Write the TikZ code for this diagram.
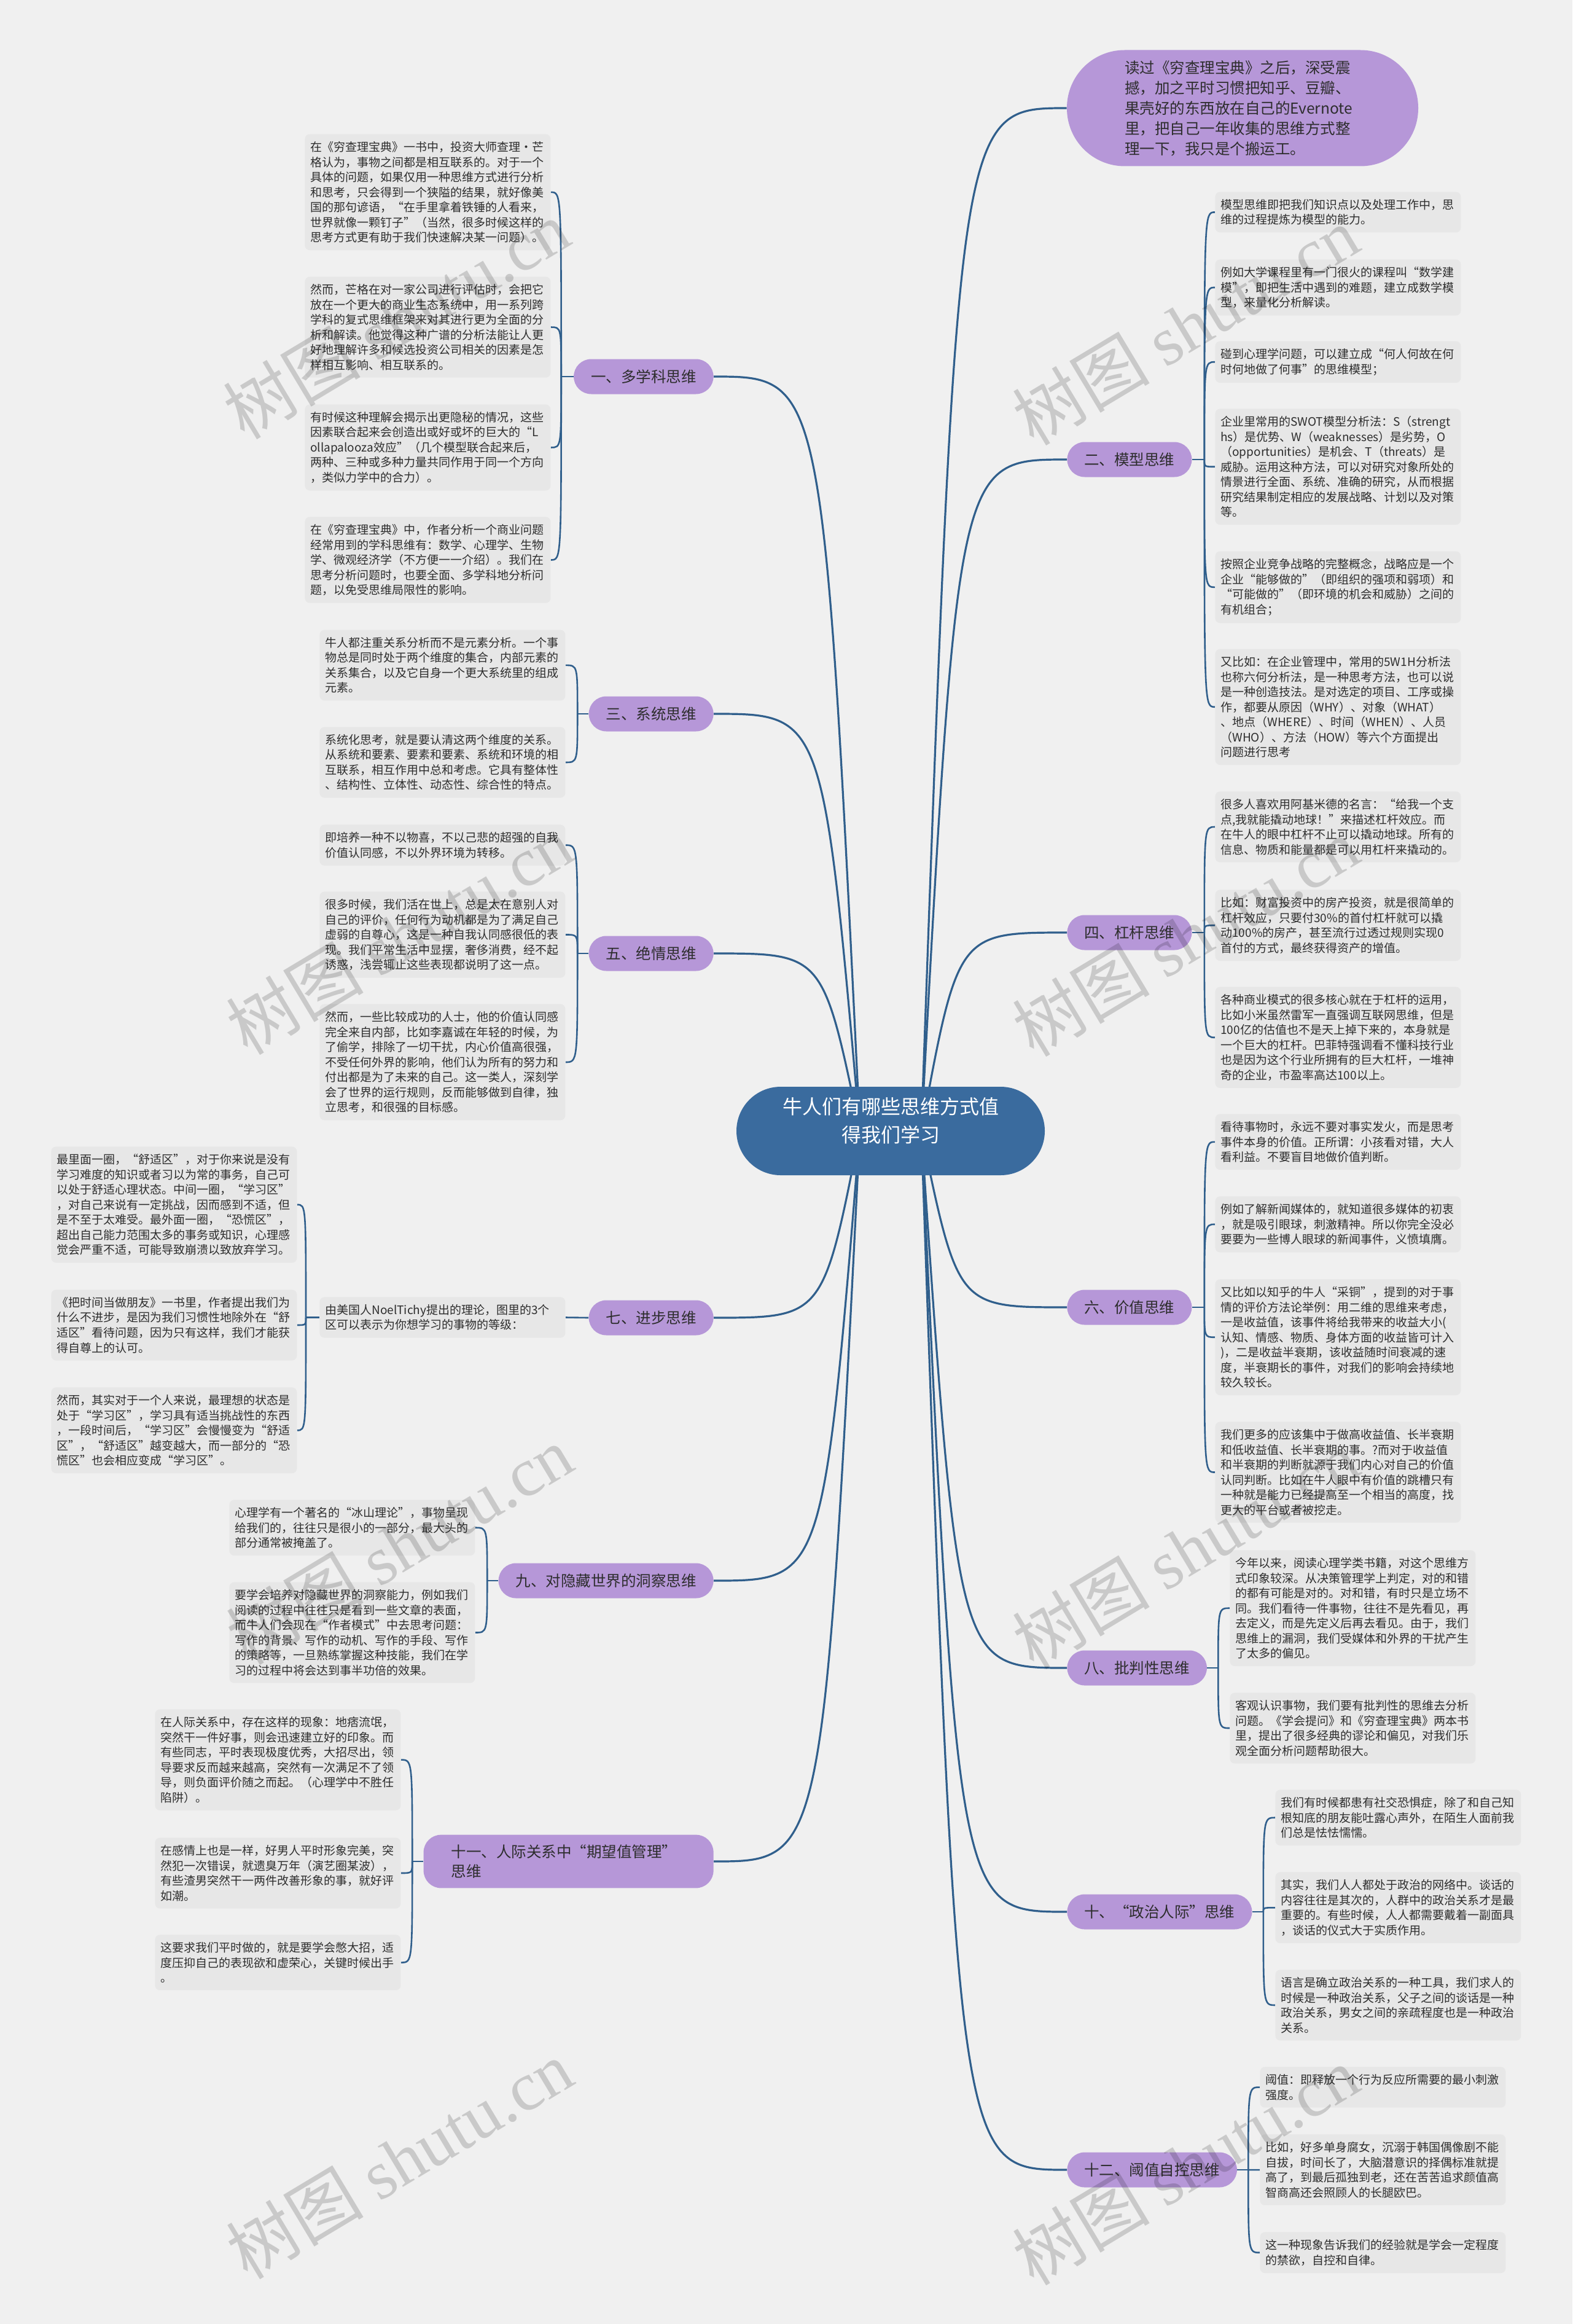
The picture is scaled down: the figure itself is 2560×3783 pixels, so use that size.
\documentclass[tikz,border=0pt]{standalone}
\usepackage{fontspec}
\setmainfont{Noto Sans CJK SC}
\newfontfamily\wmlatin{Liberation Serif}
\usetikzlibrary{calc}
\definecolor{bgc}{RGB}{240,240,240}
\definecolor{boxc}{RGB}{231,231,231}
\definecolor{pillc}{RGB}{182,151,216}
\definecolor{rootc}{RGB}{58,107,158}
\definecolor{linec}{RGB}{48,95,140}
\definecolor{txtc}{RGB}{45,45,45}
\pgfdeclarelayer{bg}
\pgfsetlayers{bg,main}
\tikzset{
  txt/.style={anchor=north west, fill=boxc, rounded corners=4pt, text width=191pt,
    inner xsep=4.5pt, inner ysep=6pt, align=left, text=txtc,
    font=\fontsize{9.5}{12.25}\selectfont},
  pill/.style={fill=pillc, rounded corners=14.25pt, minimum height=28.5pt,
    inner xsep=14pt, text=txtc, font=\fontsize{12.25}{16}\selectfont},
  pillL/.style={pill, anchor=east},
  pillR/.style={pill, anchor=west},
  mainln/.style={draw=linec, line width=1.6pt},
  subln/.style={draw=linec, line width=1.3pt},
  wm/.style={text=black, opacity=0.16, font=\fontsize{56}{60}\selectfont}
}
\newcommand{\mainconn}[2]{\draw[mainln] let \p1=(#1), \p2=(#2) in (\p1) .. controls ({0.75*\x1+0.25*\x2},\y2) .. (\p2);}
\newcommand{\subL}[2]{\draw[subln] (#1) .. controls (#1 |- #2.east) .. (#2.east);}
\newcommand{\subR}[2]{\draw[subln] (#1) .. controls (#1 |- #2.west) .. (#2.west);}
\begin{document}
\begin{tikzpicture}[x=0.5pt,y=-0.5pt]
\useasboundingbox (0,0) rectangle (2560,3783);

% ---------- root ----------
\node[fill=rootc, rounded corners=36pt, minimum width=251pt, minimum height=72pt,
  text=white, align=center, text depth=18pt, font=\fontsize{16}{23}\selectfont] (root) at (1450,1841)
  {牛人们有哪些思维方式值\\得我们学习};
\coordinate (rootR) at ($(root.center)+(50,0)$);
\coordinate (rootL) at ($(root.center)+(-50,0)$);

% ---------- top bubble ----------
\node[fill=pillc, rounded corners=47pt, minimum width=286pt, minimum height=94.5pt,
  text width=192pt, inner xsep=47pt, inner ysep=8pt, align=left, text=txtc,
  font=\fontsize{12.25}{16.5}\selectfont] (top) at (2023,176)
  {读过《穷查理宝典》之后，深受震\\撼，加之平时习惯把知乎、豆瓣、\\果壳好的东西放在自己的Evernote\\里，把自己一年收集的思维方式整\\理一下，我只是个搬运工。};

% ---------- left pills ----------
\node[pillL] (p1) at (1162,613) {一、多学科思维};
\node[pillL] (p3) at (1162,1162) {三、系统思维};
\node[pillL] (p5) at (1162,1552) {五、绝情思维};
\node[pillL] (p7) at (1162,2145) {七、进步思维};
\node[pillL] (p9) at (1162,2573) {九、对隐藏世界的洞察思维};
\node[pillL, text width=191pt, inner xsep=22.5pt, inner ysep=8pt, align=left] (p11) at (1162,3030)
  {十一、人际关系中“期望值管理”\\思维};

% ---------- right pills ----------
\node[pillR] (p2) at (1737,748) {二、模型思维};
\node[pillR] (p4) at (1737,1518) {四、杠杆思维};
\node[pillR] (p6) at (1737,2128) {六、价值思维};
\node[pillR] (p8) at (1737,2715) {八、批判性思维};
\node[pillR] (p10) at (1737,3112) {十、“政治人际”思维};
\node[pillR] (p12) at (1737,3532) {十二、阈值自控思维};

% ---------- 一 ----------
\node[txt] (a1) at (496,218) {在《穷查理宝典》一书中，投资大师查理·芒\\格认为，事物之间都是相互联系的。对于一个\\具体的问题，如果仅用一种思维方式进行分析\\和思考，只会得到一个狭隘的结果，就好像美\\国的那句谚语，“在手里拿着铁锤的人看来，\\世界就像一颗钉子”（当然，很多时候这样的\\思考方式更有助于我们快速解决某一问题）。};
\node[txt] (a2) at (496,450) {然而，芒格在对一家公司进行评估时，会把它\\放在一个更大的商业生态系统中，用一系列跨\\学科的复式思维框架来对其进行更为全面的分\\析和解读。他觉得这种广谱的分析法能让人更\\好地理解许多和候选投资公司相关的因素是怎\\样相互影响、相互联系的。};
\node[txt] (a3) at (496,658) {有时候这种理解会揭示出更隐秘的情况，这些\\因素联合起来会创造出或好或坏的巨大的“L\\ollapalooza效应”（几个模型联合起来后，\\两种、三种或多种力量共同作用于同一个方向\\，类似力学中的合力）。};
\node[txt] (a4) at (496,841) {在《穷查理宝典》中，作者分析一个商业问题\\经常用到的学科思维有：数学、心理学、生物\\学、微观经济学（不方便一一介绍）。我们在\\思考分析问题时，也要全面、多学科地分析问\\题，以免受思维局限性的影响。};

% ---------- 三 ----------
\node[txt] (c1) at (520,1025) {牛人都注重关系分析而不是元素分析。一个事\\物总是同时处于两个维度的集合，内部元素的\\关系集合，以及它自身一个更大系统里的组成\\元素。};
\node[txt] (c2) at (520,1183) {系统化思考，就是要认清这两个维度的关系。\\从系统和要素、要素和要素、系统和环境的相\\互联系，相互作用中总和考虑。它具有整体性\\、结构性、立体性、动态性、综合性的特点。};

% ---------- 五 ----------
\node[txt] (e1) at (520,1342) {即培养一种不以物喜，不以己悲的超强的自我\\价值认同感，不以外界环境为转移。};
\node[txt] (e2) at (520,1451) {很多时候，我们活在世上，总是太在意别人对\\自己的评价，任何行为动机都是为了满足自己\\虚弱的自尊心，这是一种自我认同感很低的表\\现。我们平常生活中显摆，奢侈消费，经不起\\诱惑，浅尝辄止这些表现都说明了这一点。};
\node[txt] (e3) at (520,1634) {然而，一些比较成功的人士，他的价值认同感\\完全来自内部，比如李嘉诚在年轻的时候，为\\了偷学，排除了一切干扰，内心价值高很强，\\不受任何外界的影响，他们认为所有的努力和\\付出都是为了未来的自己。这一类人，深刻学\\会了世界的运行规则，反而能够做到自律，独\\立思考，和很强的目标感。};

% ---------- 七 ----------
\node[txt] (g0) at (520,2111) {由美国人NoelTichy提出的理论，图里的3个\\区可以表示为你想学习的事物的等级：};
\node[txt] (g1) at (83,1866) {最里面一圈，“舒适区”，对于你来说是没有\\学习难度的知识或者习以为常的事务，自己可\\以处于舒适心理状态。中间一圈，“学习区”\\，对自己来说有一定挑战，因而感到不适，但\\是不至于太难受。最外面一圈，“恐慌区”，\\超出自己能力范围太多的事务或知识，心理感\\觉会严重不适，可能导致崩溃以致放弃学习。};
\node[txt] (g2) at (83,2099) {《把时间当做朋友》一书里，作者提出我们为\\什么不进步，是因为我们习惯性地除外在“舒\\适区”看待问题，因为只有这样，我们才能获\\得自尊上的认可。};
\node[txt] (g3) at (83,2258) {然而，其实对于一个人来说，最理想的状态是\\处于“学习区”，学习具有适当挑战性的东西\\，一段时间后，“学习区”会慢慢变为“舒适\\区”，“舒适区”越变越大，而一部分的“恐\\慌区”也会相应变成“学习区”。};

% ---------- 九 ----------
\node[txt] (i1) at (373,2441) {心理学有一个著名的“冰山理论”，事物呈现\\给我们的，往往只是很小的一部分，最大头的\\部分通常被掩盖了。};
\node[txt] (i2) at (373,2575) {要学会培养对隐藏世界的洞察能力，例如我们\\阅读的过程中往往只是看到一些文章的表面，\\而牛人们会现在“作者模式”中去思考问题：\\写作的背景、写作的动机、写作的手段、写作\\的策略等，一旦熟练掌握这种技能，我们在学\\习的过程中将会达到事半功倍的效果。};

% ---------- 十一 ----------
\node[txt] (k1) at (252,2782) {在人际关系中，存在这样的现象：地痞流氓，\\突然干一件好事，则会迅速建立好的印象。而\\有些同志，平时表现极度优秀，大招尽出，领\\导要求反而越来越高，突然有一次满足不了领\\导，则负面评价随之而起。（心理学中不胜任\\陷阱）。};
\node[txt] (k2) at (252,2991) {在感情上也是一样，好男人平时形象完美，突\\然犯一次错误，就遗臭万年（演艺圈某波），\\有些渣男突然干一两件改善形象的事，就好评\\如潮。};
\node[txt] (k3) at (252,3149) {这要求我们平时做的，就是要学会憋大招，适\\度压抑自己的表现欲和虚荣心，关键时候出手\\。};

% ---------- 二 ----------
\node[txt] (b1) at (1978,312) {模型思维即把我们知识点以及处理工作中，思\\维的过程提炼为模型的能力。};
\node[txt] (b2) at (1978,422) {例如大学课程里有一门很火的课程叫“数学建\\模”，即把生活中遇到的难题，建立成数学模\\型，来量化分析解读。};
\node[txt] (b3) at (1978,555) {碰到心理学问题，可以建立成“何人何故在何\\时何地做了何事”的思维模型；};
\node[txt] (b4) at (1978,665) {企业里常用的SWOT模型分析法：S（strengt\\hs）是优势、W（weaknesses）是劣势，O\\（opportunities）是机会、T（threats）是\\威胁。运用这种方法，可以对研究对象所处的\\情景进行全面、系统、准确的研究，从而根据\\研究结果制定相应的发展战略、计划以及对策\\等。};
\node[txt] (b5) at (1978,897) {按照企业竞争战略的完整概念，战略应是一个\\企业“能够做的”（即组织的强项和弱项）和\\“可能做的”（即环境的机会和威胁）之间的\\有机组合；};
\node[txt] (b6) at (1978,1056) {又比如：在企业管理中，常用的5W1H分析法\\也称六何分析法，是一种思考方法，也可以说\\是一种创造技法。是对选定的项目、工序或操\\作，都要从原因（WHY）、对象（WHAT）\\、地点（WHERE）、时间（WHEN）、人员\\（WHO）、方法（HOW）等六个方面提出\\问题进行思考};

% ---------- 四 ----------
\node[txt] (d1) at (1978,1288) {很多人喜欢用阿基米德的名言：“给我一个支\\点,我就能撬动地球！”来描述杠杆效应。而\\在牛人的眼中杠杆不止可以撬动地球。所有的\\信息、物质和能量都是可以用杠杆来撬动的。};
\node[txt] (d2) at (1978,1448) {比如：财富投资中的房产投资，就是很简单的\\杠杆效应，只要付30\%的首付杠杆就可以撬\\动100\%的房产，甚至流行过透过规则实现0\\首付的方式，最终获得资产的增值。};
\node[txt] (d3) at (1978,1606) {各种商业模式的很多核心就在于杠杆的运用，\\比如小米虽然雷军一直强调互联网思维，但是\\100亿的估值也不是天上掉下来的，本身就是\\一个巨大的杠杆。巴菲特强调看不懂科技行业\\也是因为这个行业所拥有的巨大杠杆，一堆神\\奇的企业，市盈率高达100以上。};

% ---------- 六 ----------
\node[txt] (f1) at (1978,1813) {看待事物时，永远不要对事实发火，而是思考\\事件本身的价值。正所谓：小孩看对错，大人\\看利益。不要盲目地做价值判断。};
\node[txt] (f2) at (1978,1947) {例如了解新闻媒体的，就知道很多媒体的初衷\\，就是吸引眼球，刺激精神。所以你完全没必\\要要为一些博人眼球的新闻事件，义愤填膺。};
\node[txt] (f3) at (1978,2082) {又比如以知乎的牛人“采铜”，提到的对于事\\情的评价方法论举例：用二维的思维来考虑，\\一是收益值，该事件将给我带来的收益大小(\\认知、情感、物质、身体方面的收益皆可计入\\)，二是收益半衰期，该收益随时间衰减的速\\度，半衰期长的事件，对我们的影响会持续地\\较久较长。};
\node[txt] (f4) at (1978,2314) {我们更多的应该集中于做高收益值、长半衰期\\和低收益值、长半衰期的事。?而对于收益值\\和半衰期的判断就源于我们内心对自己的价值\\认同判断。比如在牛人眼中有价值的跳槽只有\\一种就是能力已经提高至一个相当的高度，找\\更大的平台或者被挖走。};

% ---------- 八 ----------
\node[txt] (h1) at (2002,2523) {今年以来，阅读心理学类书籍，对这个思维方\\式印象较深。从决策管理学上判定，对的和错\\的都有可能是对的。对和错，有时只是立场不\\同。我们看待一件事物，往往不是先看见，再\\去定义，而是先定义后再去看见。由于，我们\\思维上的漏洞，我们受媒体和外界的干扰产生\\了太多的偏见。};
\node[txt] (h2) at (2002,2755) {客观认识事物，我们要有批判性的思维去分析\\问题。《学会提问》和《穷查理宝典》两本书\\里，提出了很多经典的谬论和偏见，对我们乐\\观全面分析问题帮助很大。};

% ---------- 十 ----------
\node[txt] (j1b) at (2076,2913) {我们有时候都患有社交恐惧症，除了和自己知\\根知底的朋友能吐露心声外，在陌生人面前我\\们总是怯怯懦懦。};
\node[txt] (j2b) at (2076,3047) {其实，我们人人都处于政治的网络中。谈话的\\内容往往是其次的，人群中的政治关系才是最\\重要的。有些时候，人人都需要戴着一副面具\\，谈话的仪式大于实质作用。};
\node[txt] (j3b) at (2076,3206) {语言是确立政治关系的一种工具，我们求人的\\时候是一种政治关系，父子之间的谈话是一种\\政治关系，男女之间的亲疏程度也是一种政治\\关系。};

% ---------- 十二 ----------
\node[txt] (l1) at (2051,3364) {阈值：即释放一个行为反应所需要的最小刺激\\强度。};
\node[txt] (l2) at (2051,3474) {比如，好多单身腐女，沉溺于韩国偶像剧不能\\自拔，时间长了，大脑潜意识的择偶标准就提\\高了，到最后孤独到老，还在苦苦追求颜值高\\智商高还会照顾人的长腿欧巴。};
\node[txt] (l3) at (2051,3633) {这一种现象告诉我们的经验就是学会一定程度\\的禁欲，自控和自律。};

% ---------- junctions ----------
\coordinate (J1) at ($(p1.west)+(-20,0)$);
\coordinate (J3) at ($(p3.west)+(-18,0)$);
\coordinate (J5) at ($(p5.west)+(-18,0)$);
\coordinate (J7) at ($(g0.west)+(-22,0)$);
\coordinate (J9) at ($(p9.west)+(-18,0)$);
\coordinate (J11) at ($(p11.west)+(-18,0)$);
\coordinate (J2) at ($(p2.east)+(20,0)$);
\coordinate (J4) at ($(p4.east)+(20,0)$);
\coordinate (J6) at ($(p6.east)+(20,0)$);
\coordinate (J8) at ($(p8.east)+(18,0)$);
\coordinate (J10) at ($(p10.east)+(18,0)$);
\coordinate (J12) at ($(p12.east)+(18,0)$);

\begin{pgfonlayer}{bg}
\fill[bgc] (0,0) rectangle (2560,3783);
% main connectors
\mainconn{rootR}{top.west}
\mainconn{rootR}{p2.west}
\mainconn{rootR}{p4.west}
\mainconn{rootR}{p6.west}
\mainconn{rootR}{p8.west}
\mainconn{rootR}{p10.west}
\mainconn{rootR}{p12.west}
\mainconn{rootL}{p1.east}
\mainconn{rootL}{p3.east}
\mainconn{rootL}{p5.east}
\mainconn{rootL}{p7.east}
\mainconn{rootL}{p9.east}
\mainconn{rootL}{p11.east}
% left sub connectors
\draw[subln] (p1.west) -- (J1);
\subL{J1}{a1}\subL{J1}{a2}\subL{J1}{a3}\subL{J1}{a4}
\draw[subln] (p3.west) -- (J3);
\subL{J3}{c1}\subL{J3}{c2}
\draw[subln] (p5.west) -- (J5);
\subL{J5}{e1}\subL{J5}{e2}\subL{J5}{e3}
\draw[subln] (p7.west) -- (g0.east);
\draw[subln] (g0.west) -- (J7);
\subL{J7}{g1}\subL{J7}{g2}\subL{J7}{g3}
\draw[subln] (p9.west) -- (J9);
\subL{J9}{i1}\subL{J9}{i2}
\draw[subln] (p11.west) -- (J11);
\subL{J11}{k1}\subL{J11}{k2}\subL{J11}{k3}
% right sub connectors
\draw[subln] (p2.east) -- (J2);
\subR{J2}{b1}\subR{J2}{b2}\subR{J2}{b3}\subR{J2}{b4}\subR{J2}{b5}\subR{J2}{b6}
\draw[subln] (p4.east) -- (J4);
\subR{J4}{d1}\subR{J4}{d2}\subR{J4}{d3}
\draw[subln] (p6.east) -- (J6);
\subR{J6}{f1}\subR{J6}{f2}\subR{J6}{f3}\subR{J6}{f4}
\draw[subln] (p8.east) -- (J8);
\subR{J8}{h1}\subR{J8}{h2}
\draw[subln] (p10.east) -- (J10);
\subR{J10}{j1b}\subR{J10}{j2b}\subR{J10}{j3b}
\draw[subln] (p12.east) -- (J12);
\subR{J12}{l1}\subR{J12}{l2}\subR{J12}{l3}
\end{pgfonlayer}

% ---------- watermarks ----------
\foreach \wx/\wy/\wn in {645/520/w1,1930/530/w2,650/1522/w3,1930/1525/w4,650/2515/w5,1930/2522/w6,650/3515/w7,1930/3525/w8}{
  \node[wm, rotate=31] (\wn) at (\wx,\wy) {树图 {\wmlatin shutu.cn}};
}
\end{tikzpicture}
\end{document}
